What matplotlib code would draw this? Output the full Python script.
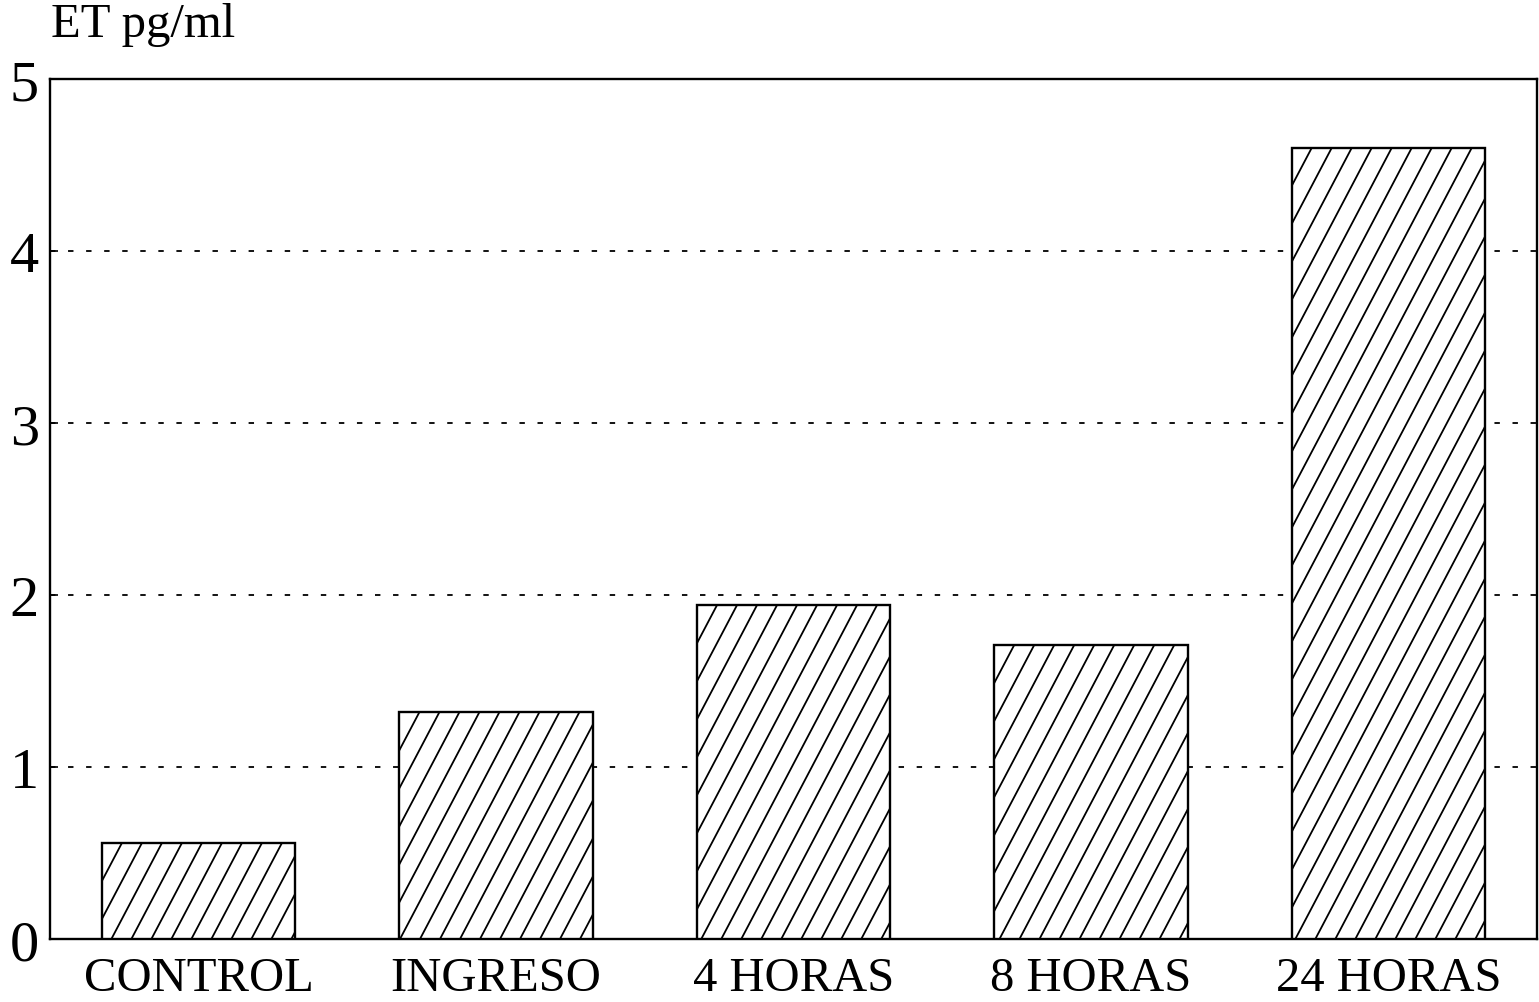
import matplotlib
matplotlib.use("Agg")
import matplotlib.pyplot as plt
import numpy as np

categories = ["CONTROL", "INGRESO", "4 HORAS", "8 HORAS", "24 HORAS"]
values = [0.56, 1.32, 1.94, 1.71, 4.60]
yticks = [0, 1, 2, 3, 4, 5]

plt.rcParams['font.family'] = ['Liberation Serif', 'DejaVu Serif']

fig = plt.figure(figsize=(15.39, 10.03), dpi=100)
ax = fig.add_axes([0.0325, 0.0628, 0.9662, 0.8572])

x = np.arange(len(categories))
bars = ax.bar(x, values, width=0.65, color='white', edgecolor='black',
              linewidth=1.7, zorder=3)

ax.set_xlim(-0.5, 4.5)
ax.set_ylim(0, 5)

# steep diagonal hatch lines clipped to each bar
slope_px = 1.9  # dy/dx in pixels
fig.canvas.draw()
trans = ax.transData
for b in bars:
    x0, y0 = b.get_x(), b.get_y()
    x1, y1 = x0 + b.get_width(), y0 + b.get_height()
    (px0, py0) = trans.transform((x0, y0))
    (px1, py1) = trans.transform((x1, y1))
    spacing = 20.0
    h = py1 - py0
    start = px0 - h / slope_px - spacing
    xs = np.arange(start, px1 + spacing, spacing)
    for xs0 in xs:
        p_a = (xs0, py0)
        p_b = (xs0 + h / slope_px, py1)
        d_a = trans.inverted().transform(p_a)
        d_b = trans.inverted().transform(p_b)
        ln, = ax.plot([d_a[0], d_b[0]], [d_a[1], d_b[1]], color='black',
                      linewidth=1.3, zorder=4)
        ln.set_clip_path(b)

ax.set_xticks(x)
ax.set_xticklabels(categories, fontsize=35)
ax.set_yticks(yticks)
ax.set_yticklabels([str(t) for t in yticks], fontsize=42)
ax.tick_params(axis='x', length=0, pad=12)
ax.tick_params(axis='y', direction='in', length=6, width=1.2, pad=8)

ax.yaxis.grid(True, linestyle=(0, (3, 7)), color='black', linewidth=1.3, zorder=1)
ax.set_axisbelow(True)

for s in ax.spines.values():
    s.set_linewidth(1.7)

fig.text(0.033, 1 - 37 / 1003, "ET pg/ml", fontsize=35, ha='left', va='baseline')

fig.savefig("out.png", dpi=100)
